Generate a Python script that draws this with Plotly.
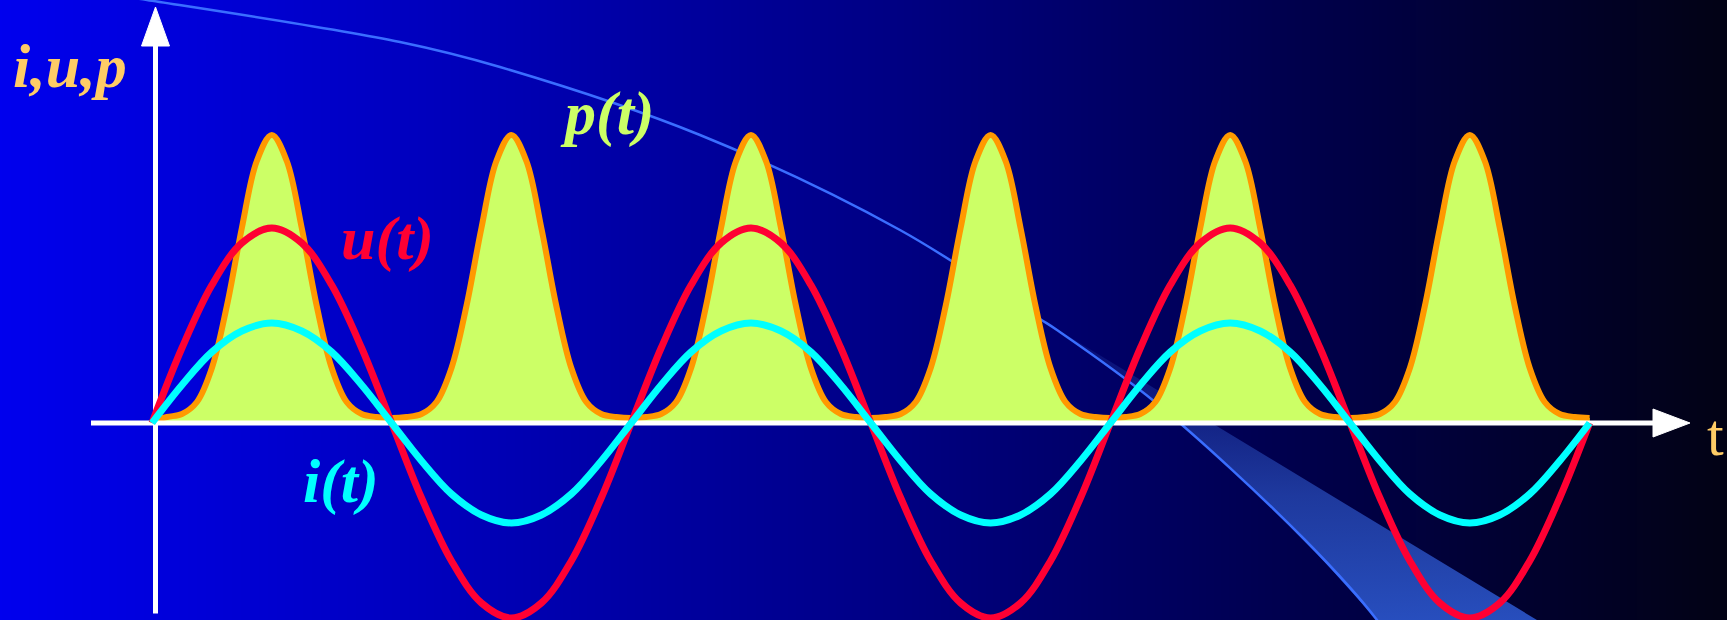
import numpy as np
import plotly.graph_objects as go

# ---------------- data ----------------
# time axis: u, i sampled every 0.25, p every 0.125 (u period = 4 units)
t_ui = [k * 0.25 for k in range(49)]
t_p = [k * 0.125 for k in range(97)]

u_vals = [0, 0.75, 1.38, 1.80, 1.95, 1.80, 1.38, 0.75,
          0, -0.75, -1.38, -1.80, -1.95, -1.80, -1.38, -0.75,
          0, 0.75, 1.38, 1.80, 1.95, 1.80, 1.38, 0.75,
          0, -0.75, -1.38, -1.80, -1.95, -1.80, -1.38, -0.75,
          0, 0.75, 1.38, 1.80, 1.95, 1.80, 1.38, 0.75,
          0, -0.75, -1.38, -1.80, -1.95, -1.80, -1.38, -0.75, 0]

i_vals = [0, 0.38, 0.71, 0.92, 1.00, 0.92, 0.71, 0.38,
          0, -0.38, -0.71, -0.92, -1.00, -0.92, -0.71, -0.38,
          0, 0.38, 0.71, 0.92, 1.00, 0.92, 0.71, 0.38,
          0, -0.38, -0.71, -0.92, -1.00, -0.92, -0.71, -0.38,
          0, 0.38, 0.71, 0.92, 1.00, 0.92, 0.71, 0.38,
          0, -0.38, -0.71, -0.92, -1.00, -0.92, -0.71, -0.38, 0]

p_vals = [0.02, 0.06, 0.09, 0.21, 0.55, 1.17, 1.95, 2.62, 2.88, 2.62, 1.95, 1.17, 0.55, 0.21, 0.09, 0.06,
          0.05, 0.06, 0.09, 0.21, 0.55, 1.17, 1.95, 2.62, 2.88, 2.62, 1.95, 1.17, 0.55, 0.21, 0.09, 0.06,
          0.05, 0.06, 0.09, 0.21, 0.55, 1.17, 1.95, 2.62, 2.88, 2.62, 1.95, 1.17, 0.55, 0.21, 0.09, 0.06,
          0.05, 0.06, 0.09, 0.21, 0.55, 1.17, 1.95, 2.62, 2.88, 2.62, 1.95, 1.17, 0.55, 0.21, 0.09, 0.06,
          0.05, 0.06, 0.09, 0.21, 0.55, 1.17, 1.95, 2.62, 2.88, 2.62, 1.95, 1.17, 0.55, 0.21, 0.09, 0.06,
          0.05, 0.06, 0.09, 0.21, 0.55, 1.17, 1.95, 2.62, 2.88, 2.62, 1.95, 1.17, 0.55, 0.21, 0.09, 0.06,
          0.05]

labels = {"axis_y": "i,u,p", "axis_x": "t", "u": "u(t)", "i": "i(t)", "p": "p(t)"}

# ---------------- geometry (figure pixels) ----------------
W, H = 1727, 620
T0, TX = 152.0, 119.8   # pixel of t=0, pixels per t unit
Y0, YU = 423.0, 100.0   # pixel of y=0, pixels per y unit


def dx(px):
    return (px - T0) / TX


def dy(py):
    return (Y0 - py) / YU


fig = go.Figure()

# background horizontal gradient
nb = 80
bx = np.linspace(dx(-20), dx(W + 20), nb)
bz = [list(np.linspace(0, 1, nb))] * 2
fig.add_trace(go.Heatmap(
    x=bx, y=[dy(H + 20), dy(-20)], z=bz, zsmooth="best", showscale=False,
    hoverinfo="skip",
    colorscale=[[0, "rgb(0,0,240)"], [0.25, "rgb(0,0,190)"], [0.5, "rgb(0,0,135)"],
                [0.75, "rgb(0,0,75)"], [1, "rgb(2,2,18)"]]))

# decorative band and arc
arc_px = [(100, -7), (147, 0), (400, 42), (500, 67), (700, 135), (900, 230),
          (1040, 319), (1057, 330), (1155, 402), (1305, 540), (1377, 620), (1390, 640)]
band_px = [(1040, 319), (1057, 330), (1100, 361), (1155, 402), (1230, 468), (1305, 540),
           (1377, 620), (1390, 640), (1570, 640), (1040, 319)]
fig.add_trace(go.Scatter(
    x=[dx(p[0]) for p in band_px], y=[dy(p[1]) for p in band_px], mode="lines",
    line=dict(width=0), fill="toself", hoverinfo="skip",
    fillgradient=dict(type="vertical",
                      colorscale=[[0, "rgba(42,84,200,0.97)"], [0.45, "rgba(40,76,185,0.75)"],
                                  [1, "rgba(40,70,180,0.1)"]])))
fig.add_trace(go.Scatter(
    x=[dx(p[0]) for p in arc_px], y=[dy(p[1]) for p in arc_px], mode="lines",
    line=dict(color="#3A6EFF", width=2.5, shape="spline"), hoverinfo="skip"))

# p(t)
fig.add_trace(go.Scatter(x=t_p, y=p_vals, mode="lines", fill="tozeroy",
                         fillcolor="#CCFF66",
                         line=dict(color="#FF9900", width=6, shape="spline")))

# axes arrows
fig.add_trace(go.Scatter(x=[dx(91), dx(1656)], y=[0, 0], mode="lines",
                         line=dict(color="white", width=5), hoverinfo="skip"))
fig.add_trace(go.Scatter(x=[dx(1653), dx(1690), dx(1653), dx(1653)],
                         y=[0.14, 0, -0.14, 0.14], mode="lines", fill="toself",
                         fillcolor="white", line=dict(color="white", width=1), hoverinfo="skip"))
fig.add_trace(go.Scatter(x=[dx(155.5), dx(155.5)], y=[dy(613.5), dy(44)], mode="lines",
                         line=dict(color="white", width=5), hoverinfo="skip"))
fig.add_trace(go.Scatter(x=[dx(141.5), dx(155.5), dx(169.5), dx(141.5)],
                         y=[dy(46), dy(7), dy(46), dy(46)], mode="lines", fill="toself",
                         fillcolor="white", line=dict(color="white", width=1), hoverinfo="skip"))

# u(t), i(t)
fig.add_trace(go.Scatter(x=t_ui, y=u_vals, mode="lines",
                         line=dict(color="#FF0033", width=7, shape="spline")))
fig.add_trace(go.Scatter(x=t_ui, y=i_vals, mode="lines",
                         line=dict(color="#00FFFF", width=7, shape="spline")))


def label(text, cx, base, color, size=62, bold=True):
    fig.add_annotation(
        x=cx / W, y=1 - (base - 0.30 * size) / H, xref="paper", yref="paper",
        text=text, showarrow=False, xanchor="center", yanchor="middle",
        font=dict(family="Liberation Serif", size=size, color=color,
                  weight="bold" if bold else "normal",
                  style="italic" if bold else "normal"))


label(labels["axis_y"], 70, 85, "#FFCC66")
label(labels["p"], 607, 132, "#CCFF66")
label(labels["u"], 387, 257, "#FF0033")
label(labels["i"], 341, 500, "#00FFFF")
label(labels["axis_x"], 1715, 453, "#FFCC66", size=60, bold=False)

fig.update_layout(
    width=W, height=H, margin=dict(l=0, r=0, t=0, b=0),
    paper_bgcolor="#000080", plot_bgcolor="#000080", showlegend=False,
    xaxis=dict(range=[dx(0), dx(W)], visible=False, fixedrange=True),
    yaxis=dict(range=[dy(H), dy(0)], visible=False, fixedrange=True),
)

fig.write_html("out.html", config={"displayModeBar": False},
               post_script="document.body.style.margin='0';document.body.style.padding='0';"
                           "document.body.style.overflow='hidden';")
